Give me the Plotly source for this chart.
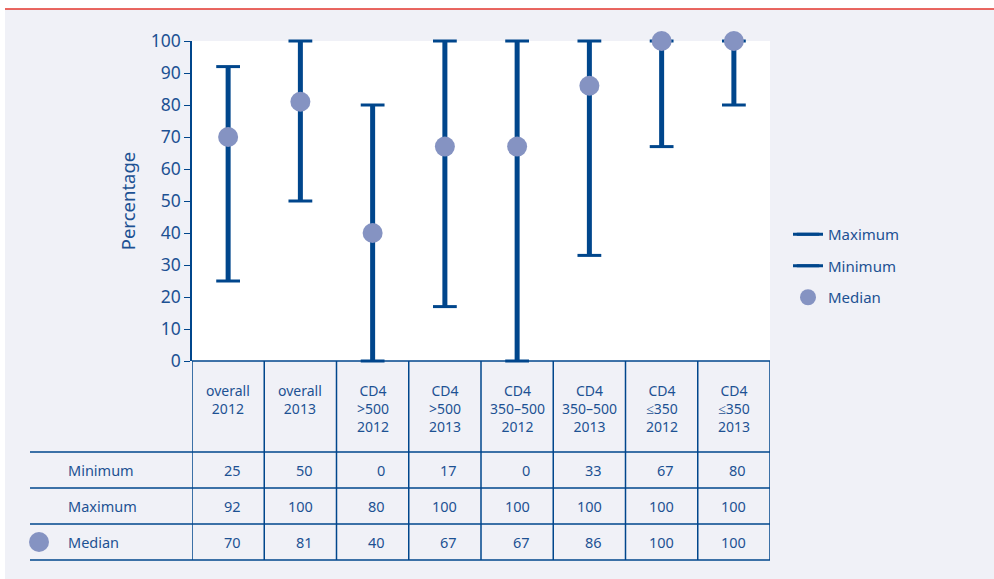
import plotly.graph_objects as go

groups = ["overall<br>2012", "overall<br>2013", "CD4<br>>500<br>2012", "CD4<br>>500<br>2013",
          "CD4<br>350–500<br>2012", "CD4<br>350–500<br>2013", "CD4<br>≤350<br>2012", "CD4<br>≤350<br>2013"]
minimum = [25, 50, 0, 17, 0, 33, 67, 80]
maximum = [92, 100, 80, 100, 100, 100, 100, 100]
median = [70, 81, 40, 67, 67, 86, 100, 100]
row_names = ["Minimum", "Maximum", "Median"]

dark = "#00468c"
txt = "#1d5193"
dot = "#8593c2"
bg = "#f0f1f7"
font = "Noto Sans"

xs = list(range(len(groups)))

# vertical stems from min to max
sx, sy = [], []
for i in xs:
    sx += [i, i, None]
    sy += [minimum[i], maximum[i], None]

# cap points separated by gaps, so the legend shows a line but no line joins the caps
cx, cmax, cmin = [], [], []
for i in xs:
    cx += [i, None]
    cmax += [maximum[i], None]
    cmin += [minimum[i], None]

fig = go.Figure()
fig.add_trace(go.Scatter(x=sx, y=sy, mode="lines", line=dict(color=dark, width=5),
                         showlegend=False, hoverinfo="skip", cliponaxis=False))
fig.add_trace(go.Scatter(x=cx, y=cmax, mode="lines+markers", name="Maximum", legendgroup="a", cliponaxis=False,
                         connectgaps=False, line=dict(color=dark, width=3),
                         marker=dict(symbol="line-ew", size=17, line=dict(color=dark, width=3))))
fig.add_trace(go.Scatter(x=cx, y=cmin, mode="lines+markers", name="Minimum", legendgroup="b", cliponaxis=False,
                         connectgaps=False, line=dict(color=dark, width=3),
                         marker=dict(symbol="line-ew", size=17, line=dict(color=dark, width=3))))
fig.add_trace(go.Scatter(x=xs, y=median, mode="markers", name="Median", legendgroup="c", cliponaxis=False,
                         marker=dict(color=dot, size=20)))

# page pixel -> paper coords (plot area is 578 x 320 px, at x 192..770, y 41..361)
def py(p):
    return (361 - p) / 320

def px(p):
    return (p - 192) / 578

shapes = []
# white strips (top and left edge) and red rule
shapes.append(dict(type="rect", xref="paper", yref="paper", x0=px(-20), x1=px(1010), y0=py(9), y1=py(-20),
                   fillcolor="white", line=dict(width=0), layer="below"))
shapes.append(dict(type="rect", xref="paper", yref="paper", x0=px(-20), x1=px(5), y0=py(600), y1=py(-20),
                   fillcolor="white", line=dict(width=0), layer="below"))
shapes.append(dict(type="line", xref="paper", yref="paper", x0=px(5), x1=px(1000), y0=py(9), y1=py(9),
                   line=dict(color="#e3342c", width=1.5)))
# table grid
for k in range(len(groups) + 1):
    shapes.append(dict(type="line", xref="x", yref="paper", x0=k - 0.5, x1=k - 0.5, y0=0, y1=py(560),
                       line=dict(color=dark, width=1.5)))
for p in [452, 488, 524, 560]:
    shapes.append(dict(type="line", xref="paper", yref="paper", x0=px(30), x1=1, y0=py(p), y1=py(p),
                       line=dict(color=dark, width=1.5)))
shapes.append(dict(type="line", xref="paper", yref="paper", x0=0, x1=1, y0=0, y1=0,
                   line=dict(color=dark, width=1.5)))
# median symbol beside the table row label
shapes.append(dict(type="circle", xref="paper", yref="paper", xsizemode="pixel", ysizemode="pixel",
                   xanchor=px(39), yanchor=py(542), x0=-10, x1=10, y0=-10, y1=10,
                   fillcolor=dot, line=dict(width=0)))

annotations = []
for i, g in enumerate(groups):
    annotations.append(dict(x=i, y=py(379), xref="x", yref="paper", text=g, showarrow=False,
                            xanchor="center", yanchor="top", font=dict(size=14, color=txt, family=font)))
row_y = [470, 506, 542]
for r, vals in enumerate([minimum, maximum, median]):
    annotations.append(dict(x=px(66), y=py(row_y[r]), xref="paper", yref="paper", text=row_names[r],
                            showarrow=False, xanchor="left", yanchor="middle",
                            font=dict(size=14.5, color=txt, family=font)))
    for i, v in enumerate(vals):
        annotations.append(dict(x=i + 0.2, y=py(row_y[r]), xref="x", yref="paper", text=str(v),
                                showarrow=False, xanchor="right", yanchor="middle",
                                font=dict(size=14.5, color=txt, family=font)))

fig.update_layout(
    width=994, height=579,
    margin=dict(l=192, r=224, t=41, b=218),
    paper_bgcolor=bg, plot_bgcolor="white",
    font=dict(family=font, color=txt),
    shapes=shapes, annotations=annotations,
    xaxis=dict(range=[-0.5, len(groups) - 0.5], showticklabels=False, showgrid=False,
               zeroline=False, ticks=""),
    yaxis=dict(range=[0, 100], dtick=10, showgrid=False, zeroline=False, showline=True,
               linecolor=dark, linewidth=1.5, ticks="outside", ticklen=6, tickcolor=dark,
               tickfont=dict(size=17.5, color=txt),
               title=dict(text="Percentage", font=dict(size=18.5, color=txt), standoff=10)),
    legend=dict(x=px(788), y=py(218), xanchor="left", yanchor="top", bgcolor="rgba(0,0,0,0)",
                font=dict(size=15, color=txt), tracegroupgap=9, traceorder="grouped"),
    showlegend=True,
)

fig.write_html("out.html", config={"displayModeBar": False},
               post_script="document.body.style.margin='0';document.body.style.overflow='hidden';")
